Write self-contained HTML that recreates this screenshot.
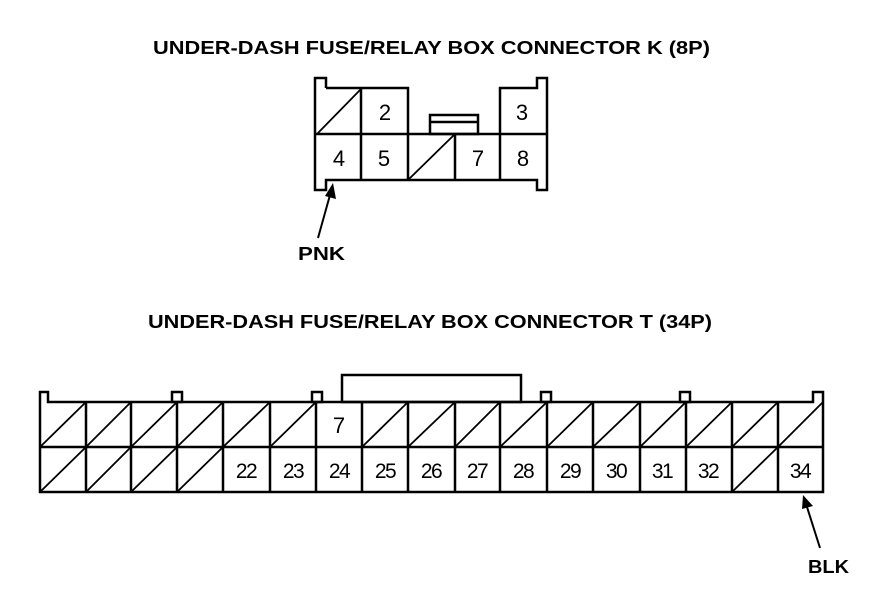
<!DOCTYPE html>
<html><head><meta charset="utf-8"><style>html,body{margin:0;padding:0;background:#fff}svg{display:block}</style></head>
<body>
<svg width="880" height="596" viewBox="0 0 880 596" xmlns="http://www.w3.org/2000/svg" font-family="Liberation Sans, sans-serif">
<g font-weight="bold" font-size="18" fill="#000">
<text x="153" y="54" textLength="557" lengthAdjust="spacingAndGlyphs">UNDER-DASH FUSE/RELAY BOX CONNECTOR K (8P)</text>
<text x="148" y="328" textLength="564" lengthAdjust="spacingAndGlyphs">UNDER-DASH FUSE/RELAY BOX CONNECTOR T (34P)</text>
<text x="298" y="260" textLength="47" lengthAdjust="spacingAndGlyphs">PNK</text>
<text x="808" y="573" textLength="41" lengthAdjust="spacingAndGlyphs">BLK</text>
</g>
<g stroke="#000" stroke-width="2.5" fill="none">
<path d="M326 88 V78 H315 V190 H326 V180 H537 V190 H547 V78 H537 V88 H500 V180"/>
<path d="M326 88 H408 V180 M316 134 H547 M361 88 V180 M455 134 V180"/>
<rect x="430" y="115" width="48" height="19"/>
<path d="M430 122 H478"/>
<path d="M317 134 L361 89 M408 180 L455 134" stroke-width="1.8"/>
<path d="M48 402 V392 H40 V492 H823 V392 H813 V402 Z"/>
<path d="M40 447 H823"/>
<rect x="172" y="392" width="10" height="10"/>
<rect x="312" y="392" width="10" height="10"/>
<rect x="541" y="392" width="10" height="10"/>
<rect x="680" y="392" width="10" height="10"/>
<rect x="342" y="375" width="179" height="27"/>
<path d="M86 402V492 M131 402V492 M177 402V492 M223 402V492 M270 402V492 M316 402V492 M362 402V492 M408 402V492 M455 402V492 M500 402V492 M547 402V492 M593 402V492 M640 402V492 M686 402V492 M732 402V492 M778 402V492"/>
<g stroke-width="1.8">
<path d="M40 447L86 402 M86 447L131 402 M131 447L177 402 M177 447L223 402 M223 447L270 402 M270 447L316 402 M362 447L408 402 M408 447L455 402 M455 447L500 402 M500 447L547 402 M547 447L593 402 M593 447L640 402 M640 447L686 402 M686 447L732 402 M732 447L778 402 M778 447L823 402"/>
<path d="M40 492L86 447 M86 492L131 447 M131 492L177 447 M177 492L223 447 M732 492L778 447"/>
</g>
<path d="M318 238 L330 195" stroke-width="2"/>
<path d="M820 548 L807 507" stroke-width="2"/>
</g>
<polygon points="333,183 336,199 325,196" fill="#000"/>
<polygon points="803,495 813,506 802,509" fill="#000"/>
<g font-size="22" text-anchor="middle" fill="#000">
<text x="385" y="120">2</text><text x="522" y="120">3</text>
<text x="339" y="166">4</text><text x="384" y="166">5</text><text x="478" y="166">7</text><text x="523" y="166">8</text>
<text x="339" y="433">7</text>
<g font-size="21" letter-spacing="-1.5">
<text x="246" y="478">22</text><text x="293" y="478">23</text><text x="339" y="478">24</text><text x="385" y="478">25</text><text x="431" y="478">26</text><text x="477" y="478">27</text><text x="523" y="478">28</text><text x="570" y="478">29</text><text x="616" y="478">30</text><text x="662" y="478">31</text><text x="708" y="478">32</text><text x="800" y="478">34</text>
</g>
</g>
</svg>
</body></html>
